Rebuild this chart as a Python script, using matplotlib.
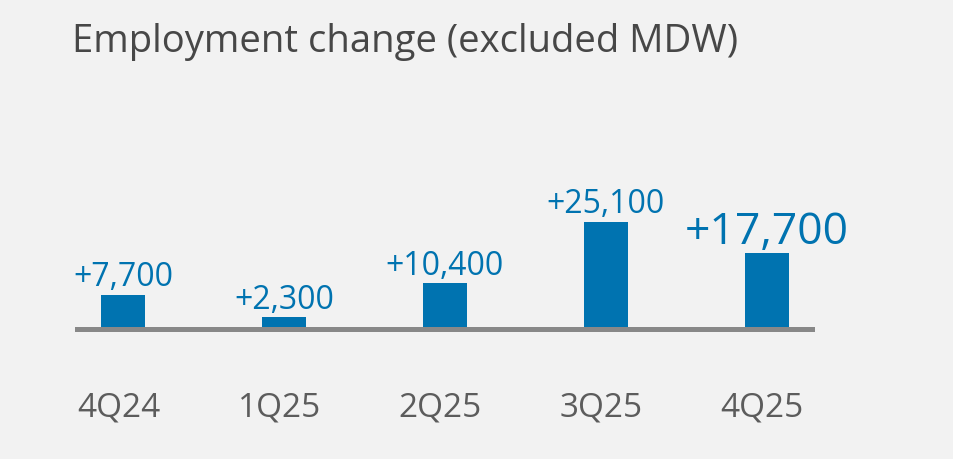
import matplotlib
matplotlib.use('Agg')
import matplotlib.pyplot as plt

# data
quarters = ['4Q24', '1Q25', '2Q25', '3Q25', '4Q25']
changes = [7700, 2300, 10400, 25100, 17700]
labels = ['+7,700', '+2,300', '+10,400', '+25,100', '+17,700']

BG = '#f2f2f2'
BLUE = '#0073b0'
GREY_TXT = '#5c5c5c'
TITLE_TXT = '#474747'
GREY_LINE = '#888888'

plt.rcParams['font.family'] = ['Open Sans', 'DejaVu Sans']

W, H = 954, 460
fig = plt.figure(figsize=(W / 100, H / 100), dpi=100, facecolor=BG)

# axes in pixel terms: left 75, right 815, bottom 333, top 100
ax = fig.add_axes([75 / W, (H - 333) / H, 740 / W, 233 / H])
ax.set_facecolor(BG)
px_per_k = 4.2
ax.set_xlim(-0.3, 4.3)
ax.set_ylim(-5 / px_per_k * 1000, 228 / px_per_k * 1000)

ax.bar(range(len(quarters)), changes, width=0.275, color=BLUE, zorder=3)
# grey baseline under the bars
ax.axhspan(-5 / px_per_k * 1000, 0, color=GREY_LINE, lw=0, zorder=2)

for i, (v, lab) in enumerate(zip(changes, labels)):
    big = i == len(changes) - 1
    ax.annotate(lab, (i, v), xytext=(0, 7), textcoords='offset points',
                ha='center', va='baseline', color=BLUE,
                fontsize=32 if big else 23)

ax.set_xticks([i - 0.03 for i in range(len(quarters))])
ax.set_xticklabels(quarters, fontsize=24, color=GREY_TXT)
ax.tick_params(axis='x', length=0, pad=42)
ax.set_yticks([])
for s in ax.spines.values():
    s.set_visible(False)

fig.text(72 / W, 1 - 52 / H, 'Employment change (excluded MDW)',
         fontsize=27.5, color=TITLE_TXT, ha='left', va='baseline')

fig.savefig('out.png', dpi=100, facecolor=BG)
